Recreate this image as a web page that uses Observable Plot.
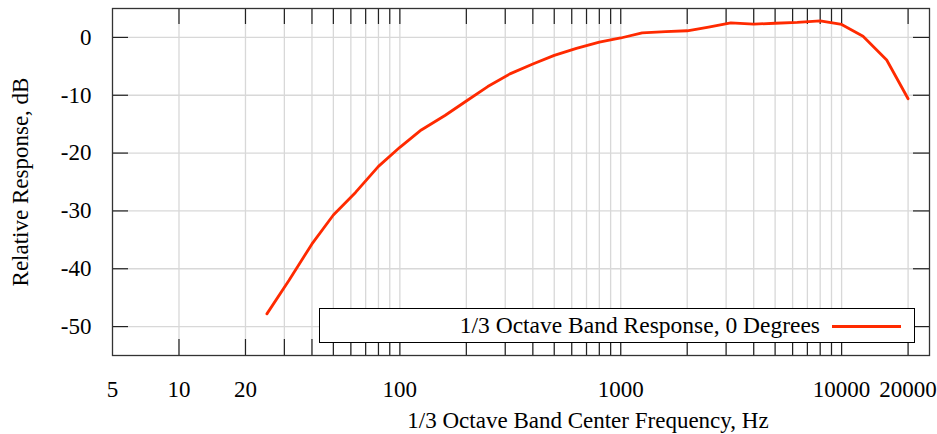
<!DOCTYPE html>
<html>
<head>
<meta charset="utf-8">
<script src="https://cdn.jsdelivr.net/npm/d3@7"></script>
<script src="https://cdn.jsdelivr.net/npm/@observablehq/plot@0.6"></script>
<style>
  html, body { margin: 0; padding: 0; background: #fff; }
  #wrap { position: relative; width: 937px; height: 434px; font-family: "Liberation Serif", serif; }
  #wrap svg text { font-family: "Liberation Serif", serif !important; }
  #legend { position: absolute; left: 319px; top: 308px; width: 596px; height: 35px; border: 1.4px solid #000; background: #fff; box-sizing: border-box; }
  #legend .lbl { position: absolute; right: 94px; top: 50%; transform: translateY(-52%); font-family: "Liberation Serif", serif; font-size: 23.5px; color: #000; white-space: nowrap; }
  #legend .swatch { position: absolute; left: 512px; width: 69px; top: 50%; height: 3px; margin-top: -1px; background: #ff2a00; }
</style>
</head>
<body>
<div id="wrap"></div>
<script>
// Data: 1/3 octave band centre frequencies (Hz) and relative response (dB)
const freqs = [25, 31.5, 40, 50, 63, 80, 100, 125, 160, 200, 250, 315, 400, 500, 630, 800, 1000, 1250, 1600, 2000, 2500, 3150, 4000, 5000, 6300, 8000, 10000, 12500, 16000, 20000];
const response = [-47.8, -42.0, -35.7, -30.7, -26.8, -22.3, -19.0, -16.0, -13.5, -11.0, -8.5, -6.3, -4.6, -3.1, -1.9, -0.8, -0.1, 0.8, 1.0, 1.15, 1.8, 2.5, 2.3, 2.45, 2.6, 2.85, 2.25, 0.2, -3.9, -10.6];
const seriesName = "1/3 Octave Band Response, 0 Degrees";

// Axis tick labels and grid positions
const xTickLabels = [5, 10, 20, 100, 1000, 10000, 20000];
const xGrid = [10, 20, 30, 40, 50, 60, 70, 80, 90, 100, 200, 300, 400, 500, 600, 700, 800, 900, 1000, 2000, 3000, 4000, 5000, 6000, 7000, 8000, 9000, 10000, 20000];
const yTicks = [-50, -40, -30, -20, -10, 0];
const xDomain = [5, 25000];
const yDomain = [-55, 5];
const xTitle = "1/3 Octave Band Center Frequency, Hz";
const yTitle = "Relative Response, dB";

const data = freqs.map((f, i) => ({f, v: response[i]}));

const W = 937, H = 434;
const mL = 112, mR = 8, mT = 8, mB = 79;
const plotH = H - mT - mB, plotW = W - mL - mR;
const tickLen = 16;
const lineColor = "#ff2a00";
const fs = 23;

const chart = Plot.plot({
  width: W,
  height: H,
  marginLeft: mL,
  marginRight: mR,
  marginTop: mT,
  marginBottom: mB,
  style: {fontFamily: "Liberation Serif, serif", fontSize: fs + "px", color: "#000", background: "#fff"},
  x: {
    type: "log",
    domain: xDomain,
    axis: null
  },
  y: {
    domain: yDomain,
    ticks: yTicks,
    tickFormat: d => String(d),
    tickSize: 0,
    tickPadding: 21,
    label: null
  },
  marks: [
    // grid
    Plot.ruleX(xGrid, {x: d => d, stroke: "#d8d8d8", strokeWidth: 1.3}),
    Plot.ruleY(yTicks, {y: d => d, stroke: "#d8d8d8", strokeWidth: 1.3}),
    // inward ticks on all four sides
    Plot.ruleX(xGrid, {x: d => d, insetTop: plotH - tickLen, stroke: "#222", strokeWidth: 1.2}),
    Plot.ruleX(xGrid, {x: d => d, insetBottom: plotH - tickLen, stroke: "#222", strokeWidth: 1.2}),
    Plot.ruleY(yTicks, {y: d => d, insetRight: plotW - tickLen, stroke: "#222", strokeWidth: 1.2}),
    Plot.ruleY(yTicks, {y: d => d, insetLeft: plotW - tickLen, stroke: "#222", strokeWidth: 1.2}),
    // data line
    Plot.line(data, {x: "f", y: "v", stroke: lineColor, strokeWidth: 2.8, strokeLinejoin: "round"}),
    // frame
    Plot.frame({stroke: "#333", strokeWidth: 1.3}),
    // x tick labels
    Plot.text(xTickLabels, {x: d => d, frameAnchor: "bottom", text: d => String(d), dy: 34, fontSize: fs, lineAnchor: "middle"}),
    // axis titles
    Plot.text([xTitle], {frameAnchor: "bottom", text: d => d, dy: 65, dx: 67, fontSize: fs, lineAnchor: "middle"}),
    Plot.text([yTitle], {frameAnchor: "left", text: d => d, rotate: -90, dx: -92, textAnchor: "middle", lineAnchor: "middle", fontSize: fs})
  ]
});

const wrap = document.getElementById("wrap");
wrap.appendChild(chart);
const legend = document.createElement("div");
legend.id = "legend";
legend.innerHTML = `<span class="lbl"></span><span class="swatch"></span>`;
legend.querySelector(".lbl").textContent = seriesName;
wrap.appendChild(legend);
</script>
</body>
</html>
